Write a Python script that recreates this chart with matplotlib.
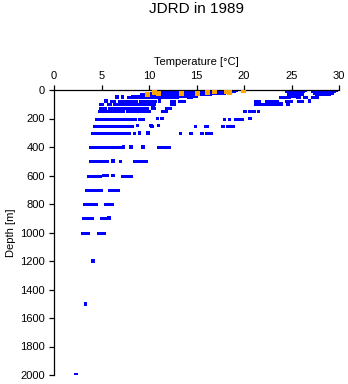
import numpy as np
import matplotlib
matplotlib.use("Agg")
import matplotlib.pyplot as plt

plt.rcParams['font.family'] = ['Liberation Sans', 'DejaVu Sans']

# blue profile data: dense runs of readings at one depth level, (start, end) temperature
run_depth = [0, 0, 0,
             10, 10, 10,
             20, 20, 20,
             30, 30, 30,
             40, 40,
             50, 50, 50, 50, 50, 50,
             75, 75, 75, 75, 75, 75, 75, 75, 75,
             100, 100, 100, 100, 100, 100, 100, 100,
             125, 125, 125, 125,
             150, 150, 150, 150, 150, 150,
             200, 200, 200, 200, 200, 200,
             250, 250, 250, 250, 250, 250, 250,
             300, 300, 300, 300, 300, 300,
             400, 400,
             500, 500, 500,
             600, 600,
             700, 700,
             800, 800,
             900, 900,
             1000, 1000]
run_t0 = [11.5, 24.3, 27.0,
          10.8, 24.3, 27.1,
          9.8, 24.5, 27.3,
          9.0, 24.5, 27.5,
          8.1, 24.8,
          7.7, 14.0, 23.7, 25.5, 26.2, 27.1,
          5.9, 6.7, 8.9, 12.2, 13.1, 21.1, 22.2, 24.3, 25.6,
          4.7, 5.6, 6.2, 12.2, 21.0, 21.8, 22.8, 10.1,
          4.7, 5.7, 11.7, 10.3,
          4.6, 7.6, 11.4, 19.9, 20.4, 21.4,
          4.3, 5.3, 8.8, 17.8, 18.3, 18.9,
          4.1, 4.7, 10.1, 14.7, 15.8, 17.6, 18.1,
          3.9, 13.2, 14.2, 15.4, 15.9, 8.3,
          3.7, 10.8,
          3.7, 6.8, 8.3,
          3.5, 7.1,
          3.3, 5.7,
          3.1, 5.3,
          2.9, 4.8,
          2.8, 4.5]
run_t1 = [19.3, 26.5, 29.8,
          19.0, 26.3, 29.6,
          18.0, 26.0, 29.4,
          16.5, 26.2, 29.0,
          15.0, 25.8,
          13.0, 14.5, 24.8, 25.9, 26.6, 27.8,
          6.4, 8.7, 10.7, 12.7, 13.8, 21.7, 23.6, 25.0, 26.2,
          5.2, 6.0, 10.2, 12.7, 21.8, 22.7, 23.7, 10.6,
          5.5, 9.9, 12.3, 10.6,
          7.4, 9.8, 11.9, 20.2, 21.2, 21.6,
          5.2, 8.6, 9.5, 18.0, 18.5, 19.9,
          4.6, 8.3, 10.4, 14.9, 16.2, 17.9, 18.9,
          8.0, 13.4, 14.5, 15.7, 16.6, 8.5,
          7.1, 12.2,
          5.7, 7.1, 9.8,
          4.9, 8.2,
          5.0, 6.8,
          4.5, 6.2,
          4.1, 5.5,
          3.7, 5.4]

# blue single readings
point_depth = [50, 50, 75, 75, 75, 100, 100, 100, 125,
               150, 150, 200, 200, 200, 250, 250, 250,
               300, 300, 400, 400, 400, 500, 600, 600, 600,
               900, 1200, 1500, 2000]
point_t = [6.6, 7.2, 5.5, 11.1, 26.9, 10.5, 23.9, 24.6, 10.4,
           10.0, 11.5, 10.9, 11.4, 20.6, 8.8, 11.0, 10.2,
           9.0, 9.9, 7.3, 8.1, 9.4, 6.2, 5.2, 5.6, 6.2,
           5.8, 4.1, 3.3, 2.35]

# orange readings near the surface
orange_t = [9.8, 10.6, 11.0, 13.4, 15.1, 16.2, 16.9, 18.2, 18.5, 19.95]
orange_depth = [30, 20, 25, 25, 25, 15, 10, 10, 15, 5]

x_ticks = [0, 5, 10, 15, 20, 25, 30]
y_ticks = np.arange(0, 2001, 200)

fig = plt.figure(figsize=(3.48, 3.84), dpi=100)
ax = fig.add_axes([54 / 348, 9 / 384, 285 / 348, 285 / 384])

ax.hlines(run_depth, run_t0, run_t1, colors='#0000ff', linewidth=1.9,
          antialiased=False)
ax.scatter(point_t, point_depth, marker='s', s=7, color='#0000ff',
           edgecolors='none', zorder=2)
ax.scatter(orange_t, orange_depth, marker='s', s=12, color='#ffa500',
           edgecolors='none', zorder=3)

ax.set_xlim(0, 30)
ax.set_ylim(2000, 0)
ax.set_xticks(x_ticks)
ax.set_yticks(y_ticks)
ax.xaxis.tick_top()
ax.xaxis.set_label_position('top')
for s in ['right', 'bottom']:
    ax.spines[s].set_visible(False)
for s in ['top', 'left']:
    ax.spines[s].set_linewidth(0.9)
ax.tick_params(length=3.6, width=0.9, labelsize=8, pad=3)
ax.set_xlabel('Temperature [°C]', fontsize=8, labelpad=4)
ax.set_ylabel('Depth [m]', fontsize=8, labelpad=3)

fig.text(196.5 / 348, 1 - 9 / 384, 'JDRD in 1989', ha='center', va='center',
         fontsize=11)

fig.savefig('out.png', dpi=100)
